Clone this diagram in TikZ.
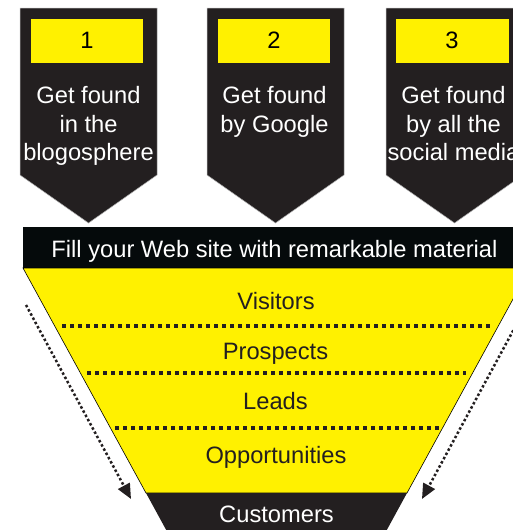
\documentclass[tikz,border=0pt]{standalone}
\usepackage{fontspec}
\setmainfont{Liberation Sans}
\usetikzlibrary{arrows.meta}
\definecolor{funnelyellow}{HTML}{FFF100}
\definecolor{tagdark}{HTML}{231F20}
\definecolor{bannerblack}{HTML}{050A0B}

\begin{document}
\begin{tikzpicture}[x=1pt,y=-1pt,
  big/.style={font=\fontsize{23.7}{28.8}\selectfont},
  tag/.style={fill=tagdark,draw=gray!60,line width=0.5pt},
  numbox/.style={fill=funnelyellow},
  tagtext/.style={big,text=white,align=center,anchor=north,inner sep=0pt},
  stage/.style={big,text=tagdark,anchor=base,inner sep=0pt},
  divider/.style={draw=tagdark,line width=3.4pt,dash pattern=on 3.5pt off 4.5pt},
  flow/.style={draw=tagdark,line width=2.5pt,dash pattern=on 2.5pt off 2.3pt,-{Triangle[length=15pt,width=13pt]}}]
\clip (0,0) rectangle (513,530);
\filldraw[tag] (20,8) -- (157,8) -- (157,175) -- (88.5,223) -- (20,175) -- cycle;
  \fill[numbox] (31,19) rectangle (143,63);
  \node[big] (num1) at (87,40) {1};
  \node[tagtext] (tag1) at (88.5,86) {Get found\\in the\\blogosphere};
\filldraw[tag] (207,8) -- (344,8) -- (344,175) -- (275.5,223) -- (207,175) -- cycle;
  \fill[numbox] (218,19) rectangle (330,63);
  \node[big] (num2) at (274,40) {2};
  \node[tagtext] (tag2) at (274.5,86) {Get found\\by Google};
\filldraw[tag] (386,8) -- (523,8) -- (523,175) -- (454.5,223) -- (386,175) -- cycle;
  \fill[numbox] (396,19) rectangle (509,63);
  \node[big] (num3) at (452,40) {3};
  \node[tagtext] (tag3) at (453.5,86) {Get found\\by all the\\social media};
\fill[bannerblack] (23,227) rectangle (540,268);
  \node[big,text=white,anchor=base,inner sep=0pt] (banner) at (274.5,257) {Fill your Web site with remarkable material};
\filldraw[fill=funnelyellow,draw=black,line width=0.6pt] (23,268) -- (530,268) -- (407,493) -- (146,493) -- cycle;
\fill[tagdark] (146,493) -- (407,493) -- (379.7,543) -- (173.3,543) -- cycle;
  \node[stage] (visitors) at (276,309) {Visitors};
  \draw[divider] (62,326) -- (491,326);
  \node[stage] (prospects) at (275.5,359) {Prospects};
  \draw[divider] (87,373) -- (466,373);
  \node[stage] (leads) at (275.5,409) {Leads};
  \draw[divider] (115,428) -- (440,428);
  \node[stage] (opps) at (276,463) {Opportunities};
  \node[stage,text=white] (customers) at (276.5,522) {Customers};
\coordinate (flowLa) at (26,305);
\coordinate (flowLb) at (131,499);
\coordinate (flowRa) at (527,305);
\coordinate (flowRb) at (422,499);
\draw[flow] (flowLa) -- (flowLb);
\draw[flow] (flowRa) -- (flowRb);
\end{tikzpicture}
\end{document}
